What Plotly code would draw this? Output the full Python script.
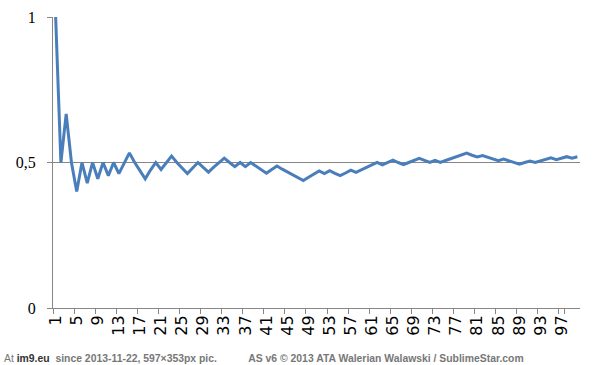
import plotly.graph_objects as go

trials = list(range(1, 101))
share = [
    1.000, 0.500, 0.667, 0.500, 0.400, 0.500, 0.429, 0.500, 0.444, 0.500,
    0.455, 0.500, 0.462, 0.500, 0.533, 0.500, 0.471, 0.444, 0.474, 0.500,
    0.476, 0.500, 0.522, 0.500, 0.480, 0.462, 0.481, 0.500, 0.483, 0.467,
    0.484, 0.500, 0.515, 0.500, 0.486, 0.500, 0.486, 0.500, 0.487, 0.475,
    0.463, 0.476, 0.488, 0.477, 0.467, 0.457, 0.447, 0.438, 0.449, 0.460,
    0.471, 0.462, 0.472, 0.463, 0.455, 0.464, 0.474, 0.466, 0.475, 0.483,
    0.492, 0.500, 0.492, 0.500, 0.508, 0.500, 0.493, 0.500, 0.507, 0.514,
    0.507, 0.500, 0.507, 0.500, 0.507, 0.513, 0.519, 0.526, 0.532, 0.525,
    0.519, 0.524, 0.518, 0.512, 0.506, 0.512, 0.506, 0.500, 0.494, 0.500,
    0.505, 0.500, 0.505, 0.511, 0.516, 0.510, 0.515, 0.520, 0.515, 0.520,
]
x_labels = [str(t) for t in trials]
tick_shown = [str(t) for t in range(1, 101, 4)]
y_ticks = [0, 0.5, 1]
y_tick_text = ["0", "0,5", "1"]

fig = go.Figure()
fig.add_trace(go.Scatter(
    x=x_labels, y=share, mode="lines",
    line=dict(color="#4A7EBB", width=3),
    hoverinfo="skip",
))

fig.update_layout(
    width=597, height=365,
    margin=dict(l=53, r=17, t=17, b=57, autoexpand=False),
    paper_bgcolor="white", plot_bgcolor="white",
    showlegend=False,
    font=dict(family="Liberation Sans, Arial", color="black"),
    xaxis=dict(
        type="category",
        tickmode="array", tickvals=tick_shown, ticktext=tick_shown,
        tickangle=-90, tickfont=dict(size=16, family="DejaVu Sans"),
        showgrid=False, showline=True, linecolor="#868686", linewidth=1,
        ticks="outside", tickson="boundaries", ticklen=5, tickcolor="#868686",
        range=[-0.5, 99.5], automargin=False,
    ),
    yaxis=dict(
        range=[0, 1], tickvals=y_ticks, ticktext=y_tick_text,
        tickfont=dict(size=16, family="Liberation Serif, serif"),
        showgrid=True, gridcolor="#868686", gridwidth=1,
        showline=True, linecolor="#868686", linewidth=1,
        ticks="outside", ticklen=5, tickcolor="#868686",
        ticklabelstandoff=8,
        zeroline=False, automargin=False,
    ),
)

fig.add_annotation(
    x=0, y=0, xref="paper", yref="paper", xanchor="left", yanchor="middle",
    xshift=-51, yshift=-50,
    text=("<span style='color:#777'>At </span><b>im9.eu</b>"
          "<b style='color:#777'>  since 2013-11-22, 597×353px pic."
          "           AS v6 © 2013 ATA Walerian Walawski / SublimeStar.com</b>"),
    showarrow=False, align="left",
    font=dict(size=10.4, family="Liberation Sans, Arial", color="#333"),
)

fig.write_html("out.html", config={"displayModeBar": False},
               post_script="document.body.style.margin='0';document.body.style.overflow='hidden';")
